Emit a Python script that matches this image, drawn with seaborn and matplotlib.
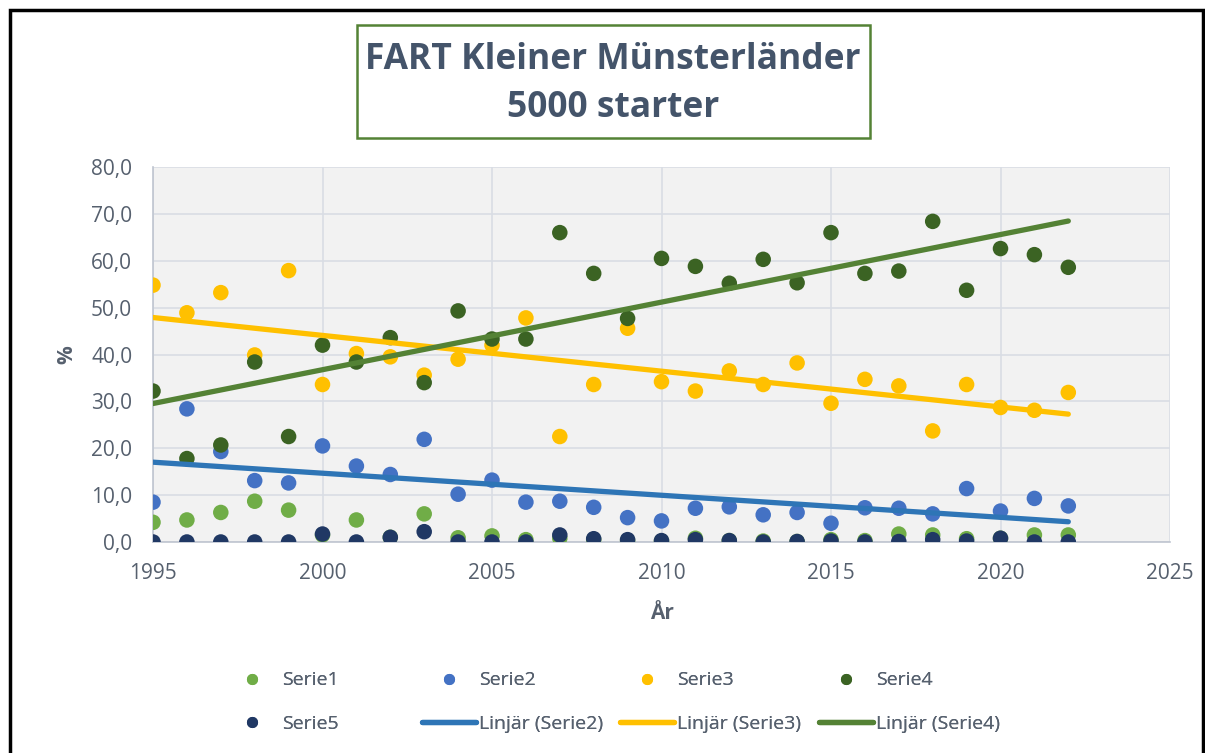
import numpy as np
import pandas as pd
import matplotlib
matplotlib.use('Agg')
import matplotlib.pyplot as plt
import seaborn as sns
from matplotlib.lines import Line2D
from matplotlib.patches import Rectangle
from matplotlib.ticker import FuncFormatter

# Data
years = list(range(1995, 2023))
serie1 = [4.2, 4.7, 6.3, 8.7, 6.8, 1.5, 4.7, 1.0, 6.0, 0.9,
          1.3, 0.5, 0.8, 0.5, 0.3, 0.2, 0.8, 0.3, 0.2, 0.1,
          0.5, 0.3, 1.7, 1.5, 0.7, 0.8, 1.5, 1.5]
serie2 = [8.5, 28.4, 19.3, 13.1, 12.6, 20.5, 16.2, 14.4, 21.9, 10.2,
          13.2, 8.5, 8.7, 7.4, 5.2, 4.5, 7.2, 7.5, 5.8, 6.3,
          4.0, 7.3, 7.2, 6.0, 11.4, 6.6, 9.3, 7.7]
serie3 = [54.8, 48.9, 53.2, 39.9, 57.9, 33.6, 40.2, 39.5, 35.6, 39.0,
          42.0, 47.8, 22.5, 33.6, 45.6, 34.2, 32.2, 36.5, 33.6, 38.2,
          29.6, 34.7, 33.3, 23.7, 33.6, 28.7, 28.1, 31.9]
serie4 = [32.2, 17.8, 20.7, 38.4, 22.5, 42.0, 38.4, 43.6, 34.0, 49.3,
          43.3, 43.3, 66.0, 57.3, 47.7, 60.5, 58.8, 55.2, 60.3, 55.3,
          66.0, 57.3, 57.8, 68.4, 53.7, 62.6, 61.3, 58.6]
serie5 = [0.0, 0.0, 0.0, 0.0, 0.0, 1.7, 0.0, 1.0, 2.2, 0.0,
          0.0, 0.0, 1.5, 0.7, 0.5, 0.3, 0.5, 0.3, 0.0, 0.1,
          0.2, 0.0, 0.1, 0.5, 0.2, 0.8, 0.0, 0.0]

series_names = ['Serie1', 'Serie2', 'Serie3', 'Serie4', 'Serie5']
dot_colors = ['#70ad47', '#4472c4', '#ffc000', '#3b6323', '#203864']
trend_series = ['Serie2', 'Serie3', 'Serie4']
trend_colors = ['#2e75b6', '#ffc000', '#548235']

df = pd.DataFrame({
    'year': years * 5,
    'value': serie1 + serie2 + serie3 + serie4 + serie5,
    'serie': [n for n in series_names for _ in years],
})

sns.set_style('white')
plt.rcParams['font.family'] = ['Open Sans', 'DejaVu Sans']

text_gray = '#56606e'
title_col = '#44546a'

W, H = 1205, 753
fig = plt.figure(figsize=(W / 100, H / 100), dpi=100)
ax = fig.add_axes([153 / W, 1 - 542 / H, (1170 - 153) / W, (542 - 167) / H])
ax.set_facecolor('#f2f2f2')

sns.scatterplot(data=df, x='year', y='value', hue='serie', hue_order=series_names,
                palette=dot_colors, s=125, edgecolor='none', ax=ax, legend=False,
                zorder=3)

for name, col in zip(trend_series, trend_colors):
    sub = df[df['serie'] == name]
    sns.regplot(data=sub, x='year', y='value', ax=ax, scatter=False, ci=None,
                truncate=True, line_kws={'color': col, 'linewidth': 3.8,
                                         'solid_capstyle': 'round', 'zorder': 4})

ax.set_xlim(1995, 2025)
ax.set_ylim(0, 80)
ax.set_xticks(range(1995, 2026, 5))
ax.set_yticks(range(0, 81, 10))
ax.yaxis.set_major_formatter(FuncFormatter(lambda v, p: f'{v:.1f}'.replace('.', ',')))
ax.grid(True, color='#d9dde4', linewidth=1.2)
ax.set_axisbelow(True)
for s in ['top', 'right']:
    ax.spines[s].set_visible(False)
for s in ['left', 'bottom']:
    ax.spines[s].set_color('#bfc5d0')
    ax.spines[s].set_linewidth(1.2)
ax.tick_params(axis='both', length=0, labelsize=15, labelcolor=text_gray, pad=15)
ax.set_xlabel('År', fontsize=15, fontweight='bold', color=text_gray, labelpad=14)
ax.set_ylabel('%', fontsize=15, fontweight='bold', color=text_gray, labelpad=10)

# Title box
fig.patches.append(Rectangle((357 / W, 1 - 138 / H), (870 - 357) / W, (138 - 25) / H,
                             transform=fig.transFigure, facecolor='white',
                             edgecolor='#548235', linewidth=1.8, zorder=5))
fig.text(613 / W, 1 - 60 / H, 'FART Kleiner Münsterländer', ha='center', va='center',
         fontsize=25.5, fontweight='bold', color=title_col, zorder=6)
fig.text(613 / W, 1 - 108 / H, '5000 starter', ha='center', va='center',
         fontsize=25.5, fontweight='bold', color=title_col, zorder=6)

# Legend: one small legend per column so that the text columns line up
def dot(c):
    return Line2D([], [], marker='o', linestyle='none', markersize=8,
                  markerfacecolor=c, markeredgecolor='none')

def line(c):
    return Line2D([], [], color=c, linewidth=3.8)

columns = [
    ([dot(dot_colors[0]), dot(dot_colors[4])], ['Serie1', 'Serie5'], 282),
    ([dot(dot_colors[1]), line(trend_colors[0])], ['Serie2', 'Linjär (Serie2)'], 479),
    ([dot(dot_colors[2]), line(trend_colors[1])], ['Serie3', 'Linjär (Serie3)'], 677),
    ([dot(dot_colors[3]), line(trend_colors[2])], ['Serie4', 'Linjär (Serie4)'], 876),
]
fs = 14
px_per_em = fs * 100 / 72
hl, htp = 2.8, 0.15
for hs, ls, tx in columns:
    left = tx - (hl + htp) * px_per_em
    leg = fig.legend(hs, ls, loc='center left', bbox_to_anchor=(left / W, 1 - 702 / H),
                     frameon=False, fontsize=fs, handlelength=hl, handletextpad=htp,
                     labelspacing=1.3, borderpad=0, borderaxespad=0)
    for t in leg.get_texts():
        t.set_color(text_gray)
    fig.add_artist(leg)

# Outer border
fig.patches.append(Rectangle((10 / W, -0.05), 1193 / W, 1 - 10 / H + 0.05,
                             transform=fig.transFigure, fill=False, edgecolor='black',
                             linewidth=2.5, zorder=10))

fig.savefig('out.png', dpi=100)
